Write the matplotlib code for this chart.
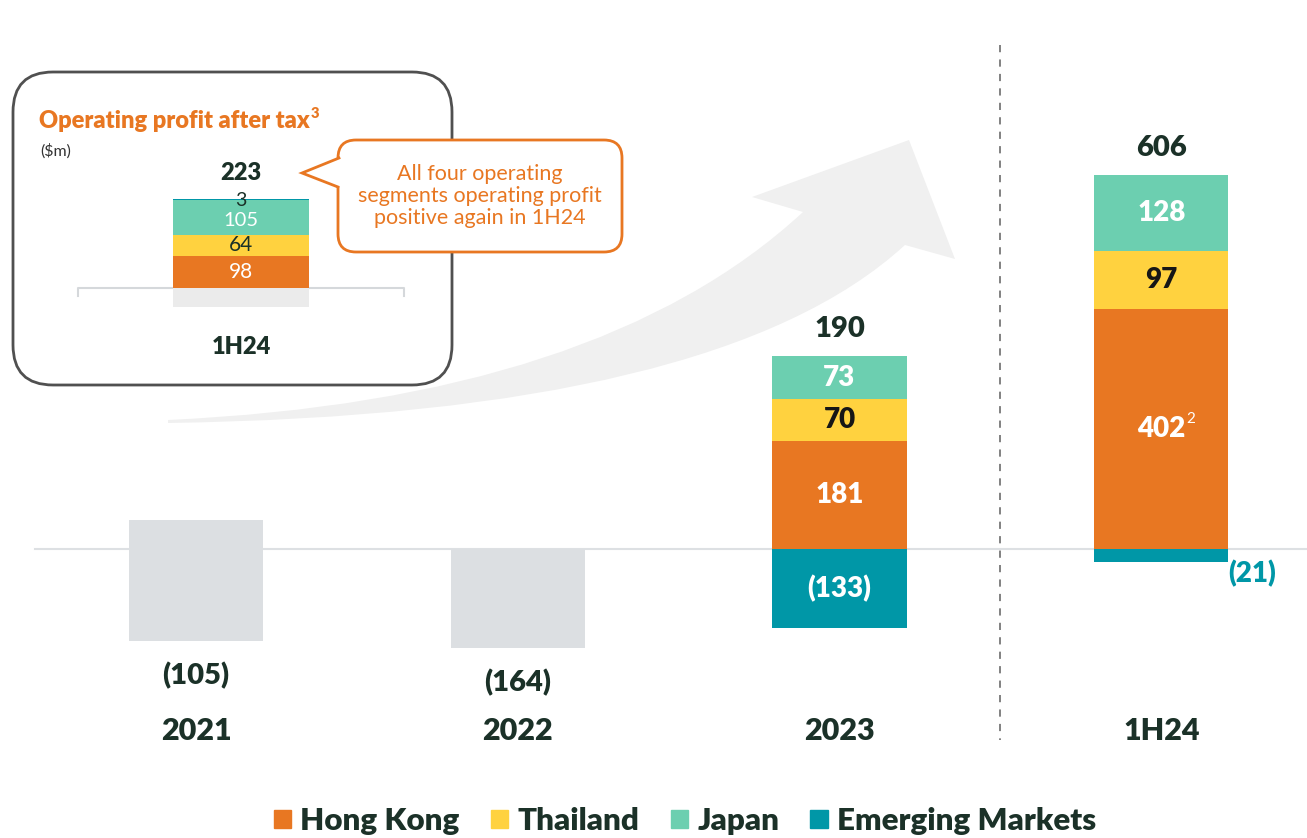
import matplotlib
matplotlib.use("Agg")
import matplotlib.pyplot as plt
from matplotlib.patches import FancyBboxPatch, Polygon, PathPatch, Patch
from matplotlib.path import Path

plt.rcParams['font.family'] = ['Lato', 'DejaVu Sans']

# data
periods = ['2021', '2022', '2023', '1H24']
hong_kong = [0, 0, 181, 402]
thailand = [0, 0, 70, 97]
japan = [0, 0, 73, 128]
emerging = [0, 0, -133, -21]
totals = [-105, -164, 190, 606]

inset_period = '1H24'
inset_hk, inset_th, inset_jp, inset_em = 98, 64, 105, 3
inset_total = 223

legend_labels = ['Hong Kong', 'Thailand', 'Japan', 'Emerging Markets']

# colours
C_HK = '#E87722'
C_TH = '#FFD23F'
C_JP = '#6CCFB0'
C_EM = '#0097A7'
C_GREY = '#DCDFE2'
C_DARK = '#1B3128'
HEAVY = 'heavy'

fig = plt.figure(figsize=(13.07, 8.38), dpi=100)

# background decoration layer in pixel coordinates
deco = fig.add_axes([0, 0, 1, 1], zorder=0)
deco.set_xlim(0, 1307)
deco.set_ylim(838, 0)
deco.axis('off')

# big swoosh arrow
verts = [(168, 420), (600, 400), (803, 212), (752, 197), (909, 140), (955, 259),
         (905, 245), (720, 415), (168, 423), (168, 420)]
codes = [Path.MOVETO, Path.CURVE3, Path.CURVE3, Path.LINETO, Path.LINETO, Path.LINETO,
         Path.LINETO, Path.CURVE3, Path.CURVE3, Path.CLOSEPOLY]
deco.add_patch(PathPatch(Path(verts, codes), facecolor='#F0F0F0', edgecolor='none'))

# inset frame
deco.add_patch(FancyBboxPatch((13 + 40, 72 + 40), 439 - 80, 313 - 80,
                              boxstyle='round,pad=40', facecolor='white',
                              edgecolor='#505050', lw=2))
t = deco.text(39, 121, 'Operating profit after tax', color=C_HK, fontsize=17,
              fontweight=HEAVY, va='center', ha='left')
deco.annotate('3', (1, 1), xycoords=t, xytext=(1, 2), textcoords='offset points',
              ha='left', va='top', color=C_HK, fontsize=10.5, fontweight=HEAVY)
deco.text(40, 151, '($m)', color='#333333', fontsize=11.5, va='center', ha='left')

# callout bubble
deco.add_patch(FancyBboxPatch((338 + 18, 140 + 18), 284 - 36, 112 - 36,
                              boxstyle='round,pad=18', facecolor='white',
                              edgecolor=C_HK, lw=2, zorder=3))
deco.add_patch(Polygon([(342, 157), (302, 173), (342, 188)], closed=True,
                       facecolor='white', edgecolor='none', zorder=4))
deco.plot([339, 302, 338], [158, 173, 187], color=C_HK, lw=2, zorder=5,
          solid_joinstyle='miter')
deco.text(480, 196, 'All four operating\nsegments operating profit\npositive again in 1H24',
          color=C_HK, fontsize=15.5, ha='center', va='center', linespacing=1.1, zorder=6)

# main chart
ax = fig.add_axes([0, 0, 1, 1], zorder=1)
ax.patch.set_alpha(0)
ax.set_xlim(-0.609, 3.453)
ax.set_ylim(-484, 920)
ax.axis('off')

x = list(range(len(periods)))
w = 0.417

# grey placeholder boxes for 2021 / 2022
grey_top = [48, 0]
grey_bot = [-154, -166]
for i in range(2):
    ax.bar(x[i], grey_top[i] - grey_bot[i], bottom=grey_bot[i], width=w, color=C_GREY, zorder=2)
    ax.annotate('(%d)' % abs(totals[i]), (x[i], grey_bot[i]), xytext=(0, -25),
                textcoords='offset points', ha='center', va='center',
                fontsize=21, fontweight=HEAVY, color=C_DARK)

ax.plot([-0.5, 3.453], [0, 0], color='#DDE0E3', lw=1.5, zorder=1)

xs = x[2:]
hk = hong_kong[2:]
th = thailand[2:]
jp = japan[2:]
em = emerging[2:]
ax.bar(xs, hk, width=w, color=C_HK, zorder=3)
ax.bar(xs, th, bottom=hk, width=w, color=C_TH, zorder=3)
b2 = [a + b for a, b in zip(hk, th)]
ax.bar(xs, jp, bottom=b2, width=w, color=C_JP, zorder=3)
ax.bar(xs, em, width=w, color=C_EM, zorder=3)

for k, xi in enumerate(xs):
    ax.text(xi, hk[k] / 2, str(hk[k]), ha='center', va='center', fontsize=20,
            fontweight=HEAVY, color='white', zorder=4)
    ax.text(xi, hk[k] + th[k] / 2, str(th[k]), ha='center', va='center', fontsize=20,
            fontweight=HEAVY, color='#161616', zorder=4)
    ax.text(xi, b2[k] + jp[k] / 2, str(jp[k]), ha='center', va='center', fontsize=20,
            fontweight=HEAVY, color='white', zorder=4)
    top = b2[k] + jp[k]
    ax.annotate(str(totals[xi]), (xi, top), xytext=(0, 19), textcoords='offset points',
                ha='center', va='center', fontsize=21, fontweight=HEAVY, color=C_DARK)

# emerging markets labels
ax.text(xs[0], em[0] / 2, '(%d)' % abs(em[0]), ha='center', va='center', fontsize=20,
        fontweight=HEAVY, color='white', zorder=4)
ax.annotate('(%d)' % abs(em[1]), (xs[1] + w / 2, em[1] / 2), xytext=(17, -13),
            textcoords='offset points', ha='center', va='center', fontsize=20,
            fontweight=HEAVY, color=C_EM)
# footnote on 402
ax.annotate('2', (xs[1], hk[1] / 2), xytext=(21, 7), textcoords='offset points',
            ha='center', va='center', fontsize=11, color='white', zorder=5)

for xi, p in zip(x, periods):
    ax.text(xi, -305, p, ha='center', va='center', fontsize=22, fontweight=HEAVY, color=C_DARK)

ax.plot([2.5, 2.5], [844, -320], color='#777777', lw=1.3, ls=(0, (4, 4)), zorder=1)

# inset chart
ins = fig.add_axes([78 / 1307, 1 - 360 / 838, 326 / 1307, 230 / 838], zorder=2)
ins.patch.set_alpha(0)
ins.set_xlim(-1, 1)
ins.set_ylim(-218, 479)
ins.axis('off')
iw = 0.84
ins.bar(0, -58, width=iw, color='#EBEBEB', zorder=1)
ins.bar(0, inset_hk, width=iw, color=C_HK, zorder=2)
ins.bar(0, inset_th, bottom=inset_hk, width=iw, color=C_TH, zorder=2)
ins.bar(0, inset_jp, bottom=inset_hk + inset_th, width=iw, color=C_JP, zorder=2)
ins.bar(0, inset_em, bottom=inset_hk + inset_th + inset_jp, width=iw, color=C_EM, zorder=2)
ins.plot([-1, -1, 1, 1], [-25, 0, 0, -25], color='#D5D8DB', lw=1.5, zorder=0, clip_on=False)
ins.text(0, inset_hk / 2, str(inset_hk), ha='center', va='center', fontsize=15, color='white', zorder=3)
ins.text(0, inset_hk + inset_th / 2, str(inset_th), ha='center', va='center', fontsize=15,
         color=C_DARK, zorder=3)
ins.annotate(str(inset_jp), (0, inset_hk + inset_th + inset_jp / 2), xytext=(0, -2),
             textcoords='offset points', ha='center', va='center',
             fontsize=14.5, color='white', zorder=3)
itop = inset_hk + inset_th + inset_jp + inset_em
ins.annotate(str(inset_em), (0, itop), xytext=(0, -1), textcoords='offset points',
             ha='center', va='center', fontsize=14, color=C_DARK, zorder=3)
ins.annotate(str(inset_total), (0, itop), xytext=(0, 19), textcoords='offset points',
             ha='center', va='center', fontsize=17, fontweight=HEAVY, color=C_DARK)
ins.text(0, -180, inset_period, ha='center', va='center', fontsize=17, fontweight=HEAVY, color=C_DARK)

# legend
handles = [Patch(color=c) for c in [C_HK, C_TH, C_JP, C_EM]]
fig.legend(handles, legend_labels, loc='center', bbox_to_anchor=(685 / 1307, 17 / 838),
           ncol=4, frameon=False, prop={'size': 22.5, 'weight': HEAVY},
           handlelength=0.55, handleheight=0.55, handletextpad=0.3, columnspacing=1.0,
           labelcolor=C_DARK)

fig.savefig('out.png', dpi=100)
